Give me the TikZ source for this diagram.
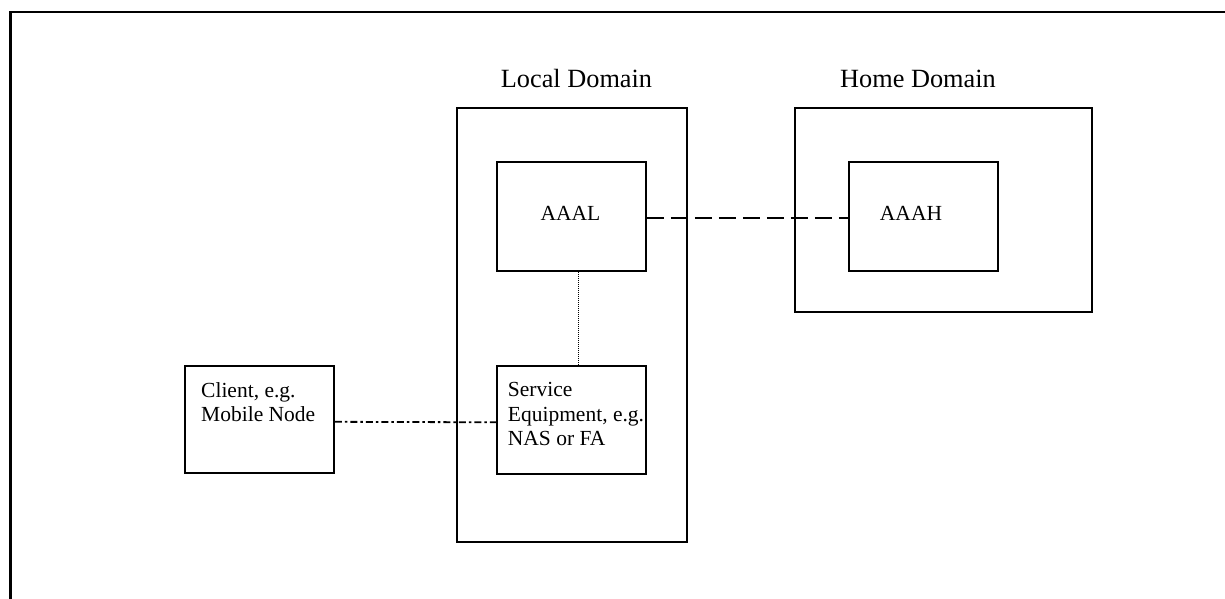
\documentclass[tikz,border=0pt]{standalone}
\usepackage{fontspec}
\setmainfont{Liberation Serif}
\usetikzlibrary{backgrounds}
\tikzset{
  box/.style={draw, line width=1.7pt, inner sep=0pt, minimum width=#1},
  box/.default=149pt,
  lbl/.style={font=\fontsize{26.3}{30}\selectfont, inner sep=0pt},
  txt/.style={font=\fontsize{21.5}{24.2}\selectfont, inner sep=0pt, align=left},
  dashconn/.style={line width=2pt, dash pattern=on 17pt off 7pt},
  dashdotconn/.style={line width=1.8pt, dash pattern=on 7pt off 3pt on 2.5pt off 3pt},
  dotconn/.style={line width=1.2pt, dash pattern=on 1pt off 1pt},
}
\begin{document}
\begin{tikzpicture}[x=1pt,y=-1pt]
\useasboundingbox (0,0) rectangle (1225,599);
% outer frame (top and left edges)
\draw[line width=2.4pt] (10.3,599) -- (10.3,12.3) -- (1225,12.3);
% domains
\node[box, minimum width=230pt, minimum height=434pt] (LD) at (572,325) {};
\node[box, minimum width=297pt, minimum height=204pt] (HD) at (943.5,210) {};
\node[lbl] (LDl) at (576.5,79) {Local Domain};
\node[lbl] (HDl) at (918,79) {Home Domain};
% inner boxes
\node[box, minimum height=109pt] (AAAL) at (571.5,216.5) {};
\node[box, minimum height=109pt] (AAAH) at (923.5,216.5) {};
\node[box, minimum height=108pt] (SE) at (571.5,420) {};
\node[box, minimum height=107pt] (CL) at (259.5,419.5) {};
% texts
\node[txt] (AAALt) at (570.5,213.3) {AAAL};
\node[txt] (AAAHt) at (911,213.3) {AAAH};
\node[txt, anchor=north west] (SEt) at (507.7,382.5) {Service\\Equipment, e.g.\\NAS or FA};
\node[txt, anchor=north west] (CLt) at (201,382.5) {Client, e.g.\\Mobile Node};
% connectors
\begin{scope}[on background layer]
\draw[dashconn] ([yshift=-1.5pt]AAAL.east) -- ([yshift=-1.5pt]AAAH.west);
\draw[dotconn] ([xshift=7pt]AAAL.south) -- ([xshift=7pt]SE.north);
\draw[dashdotconn] ([yshift=-2.3pt]CL.east) -- ([yshift=-2.3pt]SE.west);
\end{scope}
\end{tikzpicture}
\end{document}
